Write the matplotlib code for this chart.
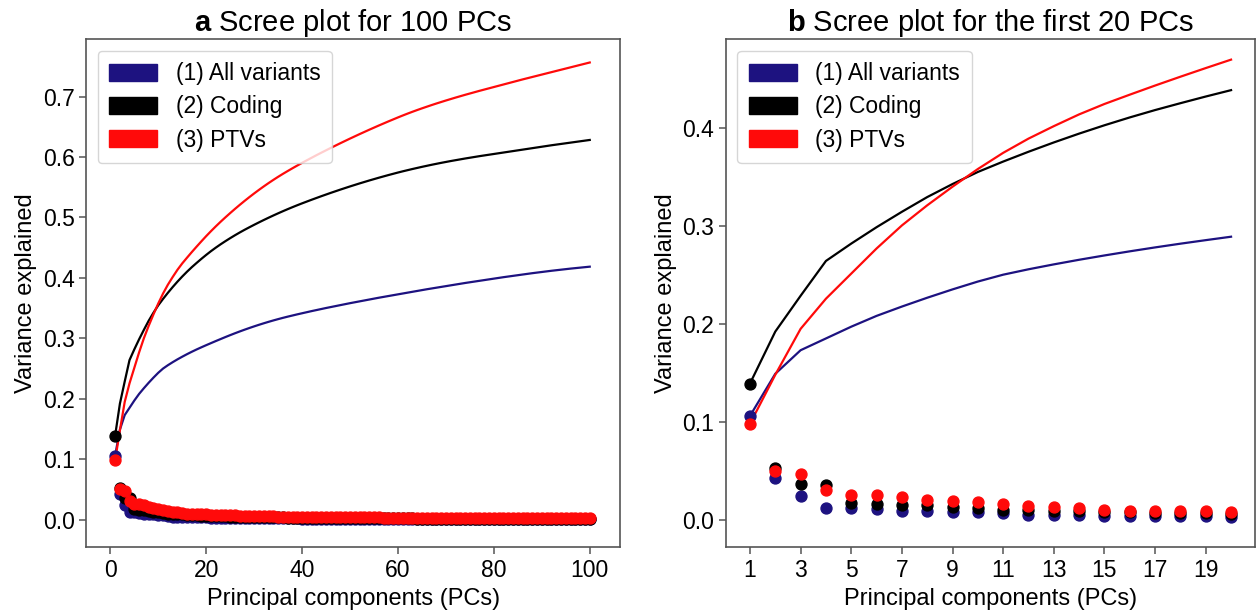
import numpy as np
import matplotlib
matplotlib.use("Agg")
import matplotlib.pyplot as plt
from matplotlib.patches import Patch

plt.rcParams['font.family'] = ['Liberation Sans', 'DejaVu Sans']
plt.rcParams['mathtext.fontset'] = 'custom'
plt.rcParams['mathtext.rm'] = 'Liberation Sans'
plt.rcParams['mathtext.bf'] = 'Liberation Sans:bold'

# variance explained by each PC
var_all = [
    0.106, 0.043, 0.024, 0.012, 0.012, 0.011, 0.0095, 0.009, 0.0085, 0.008,
    0.007, 0.0055, 0.005, 0.0047, 0.0044, 0.0042, 0.004, 0.0038, 0.0036, 0.0035,
    0.0034, 0.0034, 0.0033, 0.0033, 0.0032, 0.0031, 0.0030, 0.0029, 0.0028, 0.0027,
    0.0026, 0.0025, 0.0024, 0.0023, 0.0022, 0.0021, 0.0020, 0.0019, 0.0019, 0.0018,
    0.0018, 0.0018, 0.0017, 0.0017, 0.0017, 0.0016, 0.0016, 0.0016, 0.0016, 0.0016,
    0.0015, 0.0015, 0.0015, 0.0015, 0.0015, 0.0015, 0.0014, 0.0014, 0.0014, 0.0014,
    0.0014, 0.0014, 0.0014, 0.0014, 0.0014, 0.0014, 0.0013, 0.0013, 0.0013, 0.0013,
    0.0013, 0.0013, 0.0013, 0.0013, 0.0012, 0.0012, 0.0012, 0.0012, 0.0012, 0.0012,
    0.0012, 0.0012, 0.0011, 0.0011, 0.0011, 0.0011, 0.0011, 0.0011, 0.0010, 0.0010,
    0.0010, 0.0010, 0.0009, 0.0009, 0.0009, 0.0009, 0.0008, 0.0008, 0.0008, 0.0008,
]
var_coding = [
    0.139, 0.053, 0.0365, 0.0355, 0.0177, 0.0167, 0.0157, 0.015, 0.0133, 0.0123,
    0.0106, 0.0100, 0.0095, 0.0090, 0.0085, 0.0080, 0.0075, 0.0070, 0.0068, 0.0065,
    0.0062, 0.0058, 0.0055, 0.0052, 0.0050, 0.0048, 0.0046, 0.0044, 0.0042, 0.0041,
    0.0040, 0.0039, 0.0038, 0.0037, 0.0036, 0.0035, 0.0034, 0.0033, 0.0032, 0.0031,
    0.0030, 0.0030, 0.0029, 0.0029, 0.0028, 0.0028, 0.0027, 0.0027, 0.0026, 0.0026,
    0.0025, 0.0025, 0.0024, 0.0024, 0.0023, 0.0023, 0.0022, 0.0022, 0.0021, 0.0021,
    0.0020, 0.0019, 0.0019, 0.0018, 0.0018, 0.0017, 0.0017, 0.0016, 0.0016, 0.0015,
    0.0015, 0.0014, 0.0014, 0.0014, 0.0013, 0.0013, 0.0013, 0.0012, 0.0012, 0.0012,
    0.0012, 0.0012, 0.0012, 0.0012, 0.0012, 0.0012, 0.0012, 0.0012, 0.0012, 0.0012,
    0.0012, 0.0012, 0.0011, 0.0011, 0.0011, 0.0011, 0.0011, 0.0011, 0.0011, 0.0011,
]
var_ptv = [
    0.098, 0.050, 0.0468, 0.0307, 0.0256, 0.0256, 0.0235, 0.0205, 0.019, 0.018,
    0.0165, 0.0145, 0.0127, 0.012, 0.0106, 0.0095, 0.0093, 0.009, 0.0088, 0.0086,
    0.0082, 0.0079, 0.0076, 0.0073, 0.0071, 0.0069, 0.0067, 0.0065, 0.0063, 0.0061,
    0.0059, 0.0057, 0.0055, 0.0053, 0.0051, 0.0049, 0.0047, 0.0046, 0.0045, 0.0044,
    0.0043, 0.0042, 0.0042, 0.0041, 0.0040, 0.0040, 0.0039, 0.0039, 0.0038, 0.0038,
    0.0037, 0.0037, 0.0036, 0.0036, 0.0035, 0.0035, 0.0034, 0.0034, 0.0033, 0.0033,
    0.0032, 0.0031, 0.0030, 0.0029, 0.0028, 0.0027, 0.0027, 0.0026, 0.0025, 0.0025,
    0.0024, 0.0024, 0.0023, 0.0023, 0.0022, 0.0022, 0.0022, 0.0021, 0.0021, 0.0021,
    0.0021, 0.0021, 0.0021, 0.0021, 0.0021, 0.0021, 0.0020, 0.0020, 0.0020, 0.0020,
    0.0020, 0.0020, 0.0020, 0.0020, 0.0020, 0.0020, 0.0020, 0.0020, 0.0020, 0.0020,
]
labels = ["(1) All variants", "(2) Coding", "(3) PTVs"]
colors = ["#1d1280", "#000000", "#ff0a0a"]
b_ticks = [1, 3, 5, 7, 9, 11, 13, 15, 17, 19]

pcs = np.arange(1, len(var_all) + 1)
series = [var_all, var_coding, var_ptv]

fig = plt.figure(figsize=(12.57, 6.13), dpi=100)
ax_a = fig.add_axes([0.0687, 0.107, 0.4245, 0.829])
ax_b = fig.add_axes([0.5775, 0.107, 0.421, 0.829])

spine_col = "#555555"


def style(ax):
    for sp in ax.spines.values():
        sp.set_color(spine_col)
        sp.set_linewidth(1.2)
    ax.tick_params(axis="both", labelsize=16.5, color=spine_col, length=5, width=1.1)
    ax.set_xlabel("Principal components (PCs)", fontsize=17)
    ax.set_ylabel("Variance explained", fontsize=17)
    handles = [Patch(color=c) for c in colors]
    ax.legend(handles, labels, loc="upper left", fontsize=16.5,
              handlelength=2.1, handleheight=0.75, borderpad=0.5,
              labelspacing=0.45)


# panel a: all 100 PCs
for vals, c in zip(series, colors):
    v = np.array(vals)
    ax_a.plot(pcs, np.cumsum(v), color=c, lw=1.6)
    ax_a.scatter(pcs, v, color=c, s=62, zorder=3)
ax_a.set_xlim(-5, 106.3)
ax_a.set_ylim(-0.046, 0.795)
ax_a.set_xticks([0, 20, 40, 60, 80, 100])
ax_a.set_title(r"$\mathbf{a}$ Scree plot for 100 PCs", fontsize=21)
style(ax_a)

# panel b: first 20 PCs
n = 20
for vals, c in zip(series, colors):
    v = np.array(vals[:n])
    ax_b.plot(pcs[:n], np.cumsum(v), color=c, lw=1.6)
    ax_b.scatter(pcs[:n], v, color=c, s=62, zorder=3)
ax_b.set_ylim(-0.028, 0.49)
ax_b.set_xticks(b_ticks)
ax_b.set_yticks([0.0, 0.1, 0.2, 0.3, 0.4])
ax_b.set_title(r"$\mathbf{b}$ Scree plot for the first 20 PCs", fontsize=21)
style(ax_b)

fig.savefig("out.png", dpi=100)
